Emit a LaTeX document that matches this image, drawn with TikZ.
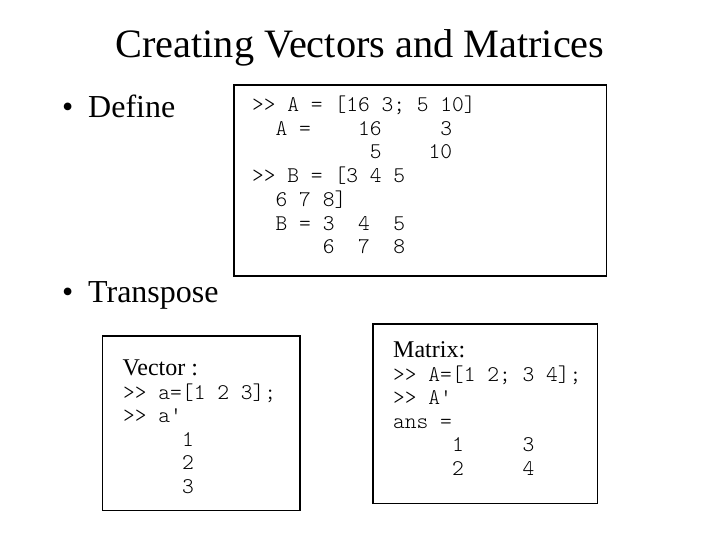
\documentclass[tikz,border=0pt]{standalone}
\usepackage{fontspec}
\setmainfont{Liberation Serif}
\setmonofont{Latin Modern Mono Light}
\begin{document}
\begin{tikzpicture}[x=1pt,y=-1pt,
  codebox/.style={draw=black,line width=1.3pt},
  title/.style={anchor=base,inner sep=0pt,font=\fontsize{40.3}{48}\selectfont},
  bul/.style={anchor=base west,inner sep=0pt,font=\fontsize{32}{38}\selectfont},
  lab/.style={anchor=base west,inner sep=0pt,font=\fontsize{24}{28}\selectfont},
  code/.style={anchor=base west,inner sep=0pt,font=\ttfamily\fontsize{22.4}{23.5}\selectfont}]
\useasboundingbox (0,0) rectangle (720,540);
\fill[white] (0,0) rectangle (720,540);
% title
\node[title] (t) at (360,58) {Creating Vectors and Matrices};
% bullets
\node[bul] (b1) at (62,118) {\textbullet};
\node[bul] (d1) at (88,118) {Define};
\node[bul] (b2) at (62,302) {\textbullet};
\node[bul] (d2) at (88,302) {Transpose};
% box 1
\draw[codebox] (234,85) rectangle (606.5,276);
\node[code] (a1) at (252,112) {>>~A~=~[16~3;~5~10]};
\node[code] (a2) at (252,135.5) {~~A~=~~~~16~~~~~3};
\node[code] (a3) at (252,159) {~~~~~~~~~~5~~~~10};
\node[code] (a4) at (252,183) {>>~B~=~[3~4~5};
\node[code] (a5) at (252,206.5) {~~6~7~8]};
\node[code] (a6) at (252,230.5) {~~B~=~3~~4~~5};
\node[code] (a7) at (252,254) {~~~~~~6~~7~~8};
% box 2
\draw[codebox] (102.5,336) rectangle (300,510.5);
\node[lab] (v0) at (122.5,375) {Vector :};
\node[code] (v1) at (123,399) {>>~a=[1~2~3];};
\node[code] (v2) at (123,422.5) {>>~a\symbol{39}};
\node[code] (v3) at (123,446) {~~~~~1};
\node[code] (v4) at (123,469.5) {~~~~~2};
\node[code] (v5) at (123,493) {~~~~~3};
% box 3
\draw[codebox] (373,324) rectangle (597.5,503.5);
\node[lab] (m0) at (393,357) {Matrix:};
\node[code] (m1) at (393,381) {>>~A=[1~2;~3~4];};
\node[code] (m2) at (393,404.5) {>>~A\symbol{39}};
\node[code] (m3) at (393,428) {ans~=};
\node[code] (m4) at (393,451.5) {~~~~~1~~~~~3};
\node[code] (m5) at (393,475) {~~~~~2~~~~~4};
\end{tikzpicture}
\end{document}
